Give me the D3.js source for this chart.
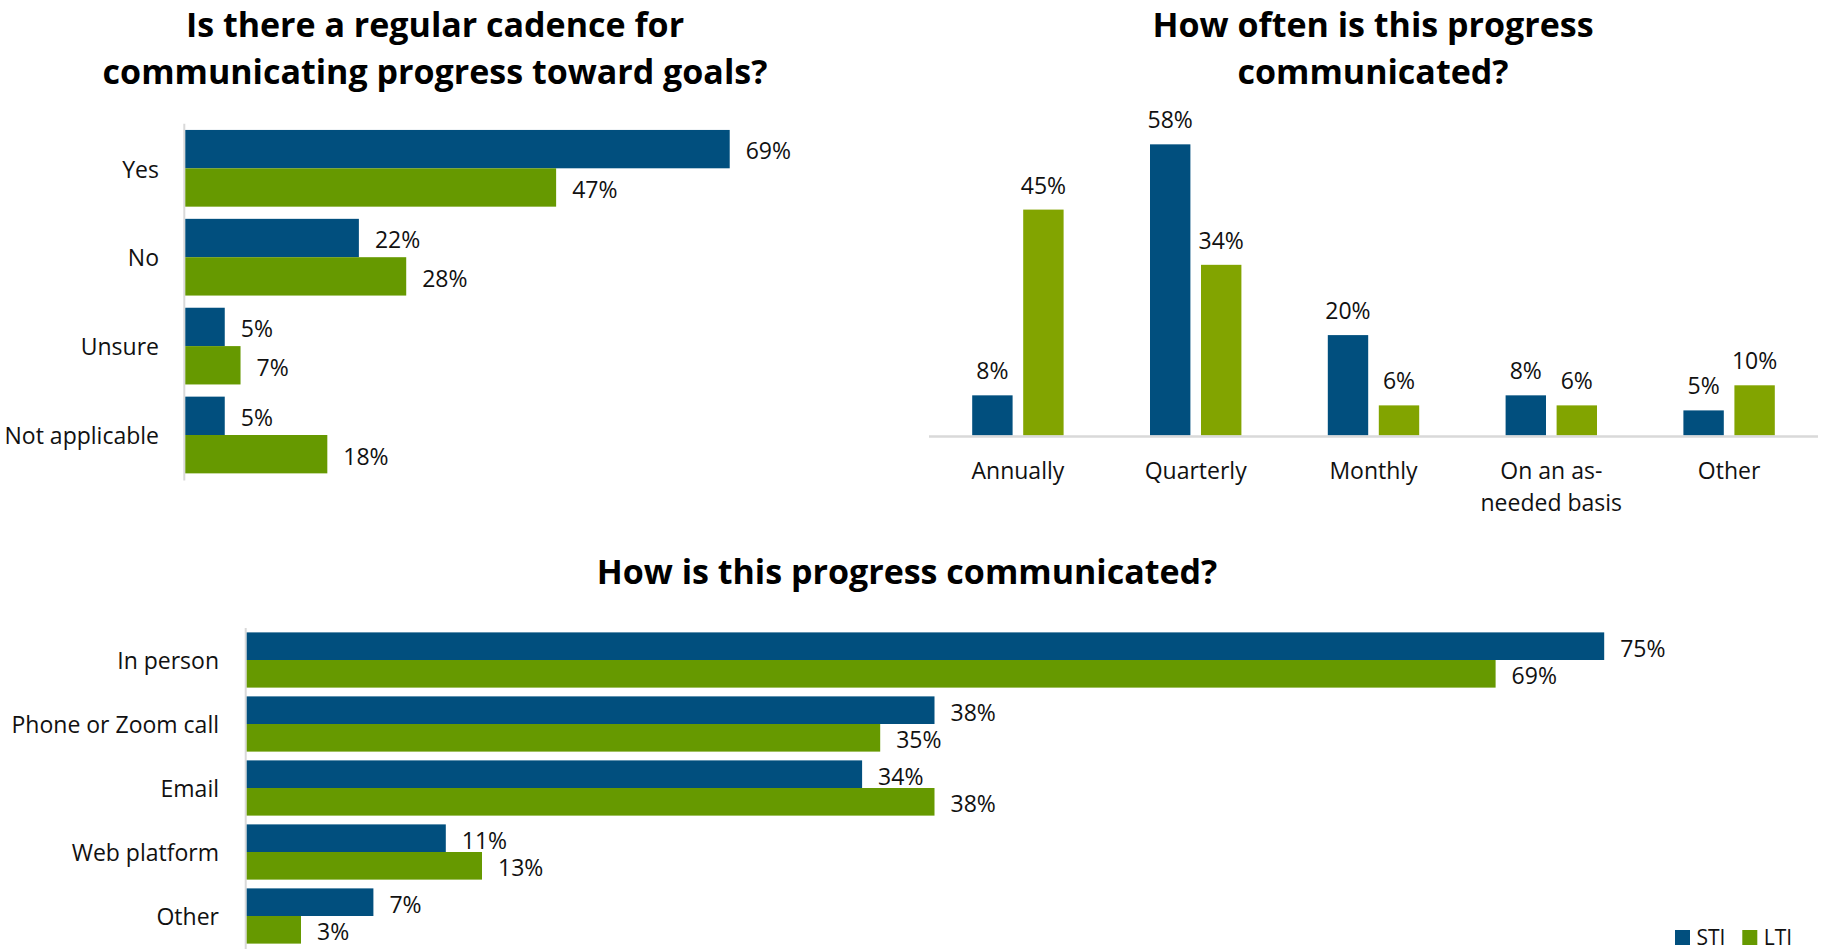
<!DOCTYPE html>
<html>
<head>
<meta charset="utf-8">
<script src="https://cdn.jsdelivr.net/npm/d3@7"></script>
<style>
  html, body { margin: 0; padding: 0; background: #ffffff; }
  svg { display: block; }
  text { font-family: "Open Sans", "Noto Sans", sans-serif; fill: #111111; }
  .title { font-weight: 700; font-size: 34px; fill: #000000; }
  .lbl { font-size: 23px; }
  .legend { font-size: 21px; }
</style>
</head>
<body>
<svg id="chart" width="1821" height="951"></svg>
<script>
// Series
const seriesNames = ["STI", "LTI"];

// Is there a regular cadence for communicating progress toward goals?
const cadenceCats = ["Yes", "No", "Unsure", "Not applicable"];
const cadenceSTI = [69, 22, 5, 5];
const cadenceLTI = [47, 28, 7, 18];

// How often is this progress communicated?
const freqCats = ["Annually", "Quarterly", "Monthly", "On an as-needed basis", "Other"];
const freqSTI = [8, 58, 20, 8, 5];
const freqLTI = [45, 34, 6, 6, 10];

// How is this progress communicated?
const methodCats = ["In person", "Phone or Zoom call", "Email", "Web platform", "Other"];
const methodSTI = [75, 38, 34, 11, 7];
const methodLTI = [69, 35, 38, 13, 3];

const blue = "#014f7e";
const greenDark = "#669900";
const greenLight = "#82a400";
const axisGrey = "#d9d9d9";

const svg = d3.select("#chart");
const pct = v => v + "%";

function title(lines, cx, y0, lineH) {
  const t = svg.append("text").attr("class", "title").attr("text-anchor", "middle");
  lines.forEach((s, i) => t.append("tspan").attr("x", cx).attr("y", y0 + i * lineH).text(s));
}

// Horizontal grouped bars: one band per category, STI above LTI
function hbars(cats, sti, lti, x, yRange, colors, labelX) {
  const rows = cats.map((c, i) => ({ cat: c, vals: [sti[i], lti[i]] }));
  const y0 = d3.scaleBand().domain(cats).range(yRange).paddingInner(0.137).paddingOuter(0.0685);
  const y1 = d3.scaleBand().domain(seriesNames).range([0, y0.bandwidth()]);
  const g = svg.append("g");

  g.append("line")
    .attr("x1", x(0) - 1).attr("x2", x(0) - 1)
    .attr("y1", yRange[0]).attr("y2", yRange[1] + 1)
    .attr("stroke", axisGrey).attr("stroke-width", 2);

  const grp = g.selectAll("g.row").data(rows).join("g")
    .attr("class", "row")
    .attr("transform", d => `translate(0,${y0(d.cat)})`);

  grp.selectAll("rect").data(d => d.vals.map((v, k) => ({ v, s: seriesNames[k] }))).join("rect")
    .attr("x", x(0))
    .attr("y", d => y1(d.s))
    .attr("width", d => x(d.v) - x(0))
    .attr("height", y1.bandwidth())
    .attr("fill", (d, k) => colors[k]);

  grp.selectAll("text.val").data(d => d.vals.map((v, k) => ({ v, s: seriesNames[k] }))).join("text")
    .attr("class", "lbl val")
    .attr("x", d => x(d.v) + 16)
    .attr("y", d => y1(d.s) + y1.bandwidth() / 2)
    .attr("dy", "0.45em")
    .text(d => pct(d.v));

  // category axis labels
  const ax = d3.axisLeft(y0).tickSize(0).tickPadding(0);
  const axG = g.append("g").attr("transform", `translate(${labelX},0)`).call(ax);
  axG.select(".domain").remove();
  axG.selectAll("text").attr("class", "lbl").attr("font-size", null).attr("font-family", null)
    .attr("fill", null).attr("dy", "0.4em");
}

// wrap a label into lines no wider than maxW, breaking at spaces or after hyphens
function wrapLabel(textSel, maxW, lineH) {
  textSel.each(function () {
    const t = d3.select(this);
    const words = t.text().split(/(?<=-)|\s+/);
    const xx = t.attr("x") || 0;
    t.text(null);
    let line = [];
    let tspan = t.append("tspan").attr("x", xx).attr("dy", 0);
    words.forEach(w => {
      const joinStr = (line.length && !line[line.length - 1].endsWith("-")) ? " " : "";
      const trial = line.length ? line.join("").concat(joinStr + w) : w;
      tspan.text(trial);
      if (tspan.node().getComputedTextLength() > maxW && line.length) {
        tspan.text(line.join(""));
        line = [w];
        tspan = t.append("tspan").attr("x", xx).attr("dy", lineH).text(w);
      } else {
        line = [trial];
      }
    });
  });
}

// ---------- Chart 1: cadence ----------
title(["Is there a regular cadence for", "communicating progress toward goals?"], 435, 37, 47);
const x1 = d3.scaleLinear().domain([0, 80]).range([185.3, 185.3 + 80 * 7.89]);
hbars(cadenceCats, cadenceSTI, cadenceLTI, x1, [123.85, 479.45], [blue, greenDark], 159);

// ---------- Chart 2: frequency ----------
title(["How often is this progress", "communicated?"], 1373, 37, 47);
{
  const x0 = d3.scaleBand().domain(freqCats).range([929, 1818]);
  const gw = 91.4;
  const xs = d3.scaleBand().domain(seriesNames)
    .range([(x0.bandwidth() - gw) / 2, (x0.bandwidth() + gw) / 2]).paddingInner(0.208);
  const y = d3.scaleLinear().domain([0, 70]).range([435.5, 435.5 - 70 * 5.02]);
  const rows = freqCats.map((c, i) => ({ cat: c, vals: [freqSTI[i], freqLTI[i]] }));
  const g = svg.append("g");
  const colors = [blue, greenLight];

  const grp = g.selectAll("g.col").data(rows).join("g")
    .attr("transform", d => `translate(${x0(d.cat)},0)`);
  grp.selectAll("rect").data(d => d.vals.map((v, k) => ({ v, s: seriesNames[k] }))).join("rect")
    .attr("x", d => xs(d.s))
    .attr("y", d => y(d.v))
    .attr("width", xs.bandwidth())
    .attr("height", d => y(0) - y(d.v))
    .attr("fill", (d, k) => colors[k]);
  grp.selectAll("text.val").data(d => d.vals.map((v, k) => ({ v, s: seriesNames[k] }))).join("text")
    .attr("class", "lbl val")
    .attr("text-anchor", "middle")
    .attr("x", d => xs(d.s) + xs.bandwidth() / 2)
    .attr("y", d => y(d.v) - 16)
    .text(d => pct(d.v));

  g.append("line")
    .attr("x1", 929).attr("x2", 1818)
    .attr("y1", y(0) + 1).attr("y2", y(0) + 1)
    .attr("stroke", axisGrey).attr("stroke-width", 2.5);

  const ax = d3.axisBottom(x0).tickSize(0).tickPadding(0);
  const axG = g.append("g").attr("transform", "translate(0,479)").call(ax);
  axG.select(".domain").remove();
  axG.selectAll("text").attr("class", "lbl").attr("font-size", null).attr("font-family", null)
    .attr("fill", null).attr("dy", 0).attr("y", 0).call(wrapLabel, 150, 31.7);
}

// ---------- Chart 3: method ----------
title(["How is this progress communicated?"], 907, 584, 47);
const x3 = d3.scaleLinear().domain([0, 80]).range([246.7, 246.7 + 80 * 18.1]);
hbars(methodCats, methodSTI, methodLTI, x3, [628, 948], [blue, greenDark], 219);

// ---------- Legend ----------
{
  const lg = svg.append("g").attr("transform", "translate(1675,930)");
  const items = lg.selectAll("g").data(seriesNames).join("g")
    .attr("transform", (d, i) => `translate(${i * 67.3},0)`);
  items.append("rect").attr("width", 15).attr("height", 15)
    .attr("fill", (d, i) => [blue, greenDark][i]);
  items.append("text").attr("class", "legend").attr("x", 21.5).attr("y", 14.5).text(d => d);
}
</script>
</body>
</html>
